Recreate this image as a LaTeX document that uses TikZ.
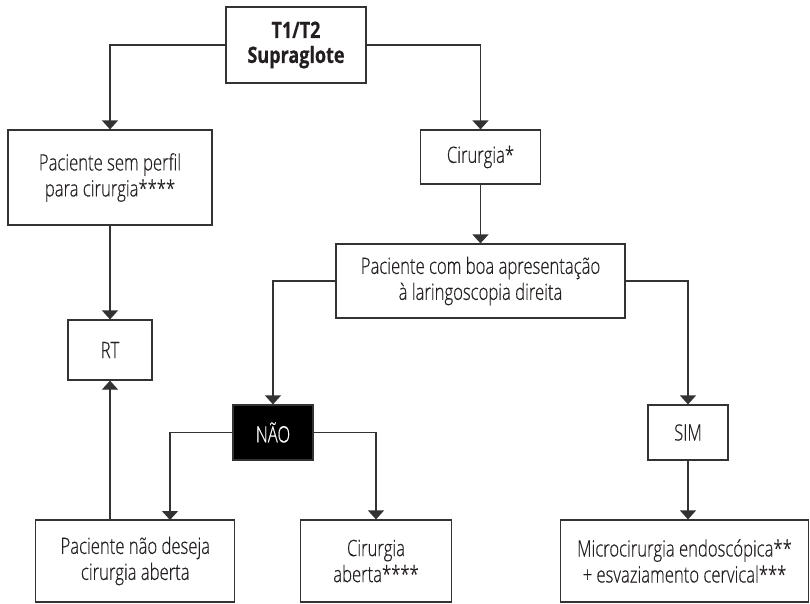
\documentclass[tikz,border=0pt]{standalone}
\usepackage{fontspec}
\IfFontExistsTF{Open Sans Light}{%
  \setmainfont{Open Sans Light}[FakeStretch=0.74, FakeBold=0.5, BoldFont={Open Sans Bold}, BoldFeatures={FakeStretch=0.8}]%
}{%
  \setmainfont{Open Sans}[FakeStretch=0.723, BoldFeatures={FakeStretch=0.8}]%
}
\usetikzlibrary{arrows.meta}
\definecolor{ln}{HTML}{333333}
\definecolor{tx}{HTML}{231F20}
\tikzset{
  box/.style={draw=ln, line width=1.2pt, align=center, inner sep=0pt, font=\fontsize{22.5}{26}\selectfont, text=tx},
  conn/.style={draw=ln, line width=1.2pt, -{Triangle[width=16pt,length=9pt]}},
}
\begin{document}
\begin{tikzpicture}[x=1pt,y=-1pt]
\useasboundingbox (0,0) rectangle (810,603);
\node[box, minimum width=140pt, minimum height=76pt, font=\fontsize{22.5}{25}\selectfont\bfseries] (top) at (296,45) {T1/T2\\Supraglote};
\node[box, minimum width=204pt, minimum height=95pt] (perfil) at (110,177.5) {Paciente sem perfil\\para cirurgia****};
\node[box, minimum width=120pt, minimum height=54pt] (cir) at (480.5,157) {Cirurgia*};
\node[box, minimum width=289pt, minimum height=74pt] (boa) at (480.5,281) {Paciente com boa apresentação\\à laringoscopia direita};
\node[box, minimum width=84pt, minimum height=60pt] (rt) at (110,350) {RT};
\node[box, fill=black, text=white, minimum width=80pt, minimum height=55pt] (nao) at (273,432.5) {NÃO};
\node[box, minimum width=80pt, minimum height=55pt] (sim) at (688,432.5) {SIM};
\node[box, minimum width=199pt, minimum height=82pt] (pnd) at (135.3,561) {Paciente não deseja\\cirurgia aberta};
\node[box, minimum width=151pt, minimum height=82pt] (ca) at (376,561) {Cirurgia\\aberta****};
\node[box, minimum width=248pt, minimum height=82pt] (micro) at (684.5,561) {Microcirurgia endoscópica**\\+ esvaziamento cervical***};
\coordinate (pndin) at (170,520);
\draw[conn] (top.west) -| (perfil.north);
\draw[conn] (top.east) -| (cir.north);
\draw[conn] (cir.south) -- (boa.north);
\draw[conn] (boa.west) -| (nao.north);
\draw[conn] (boa.east) -| (sim.north);
\draw[conn] (perfil.south) -- (rt.north);
\draw[conn] (rt.south |- pnd.north) -- (rt.south);
\draw[conn] (nao.west) -| (pndin);
\draw[conn] (nao.east) -| (ca.north);
\draw[conn] (sim.south) -- (sim.south |- micro.north);
\end{tikzpicture}
\end{document}
